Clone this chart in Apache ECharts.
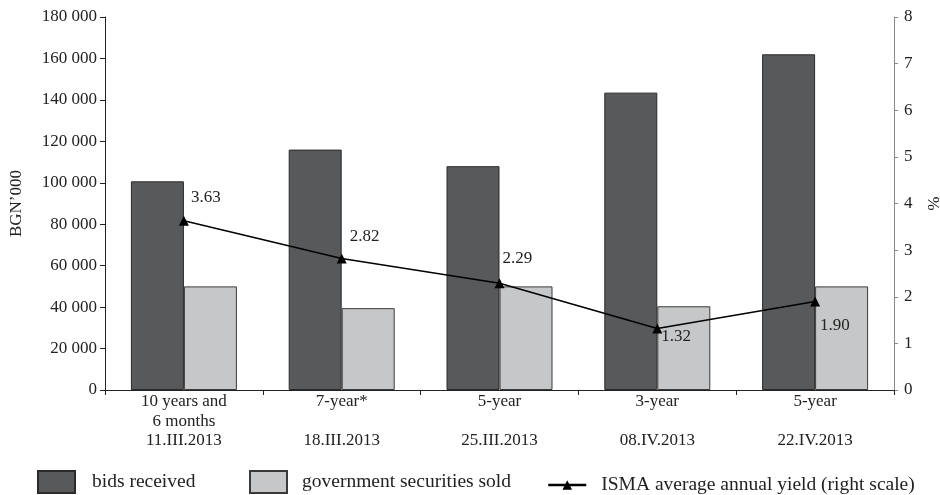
<!DOCTYPE html>
<html>
<head>
<meta charset="utf-8">
<script src="https://cdn.jsdelivr.net/npm/echarts@6/dist/echarts.min.js"></script>
<style>html,body{margin:0;padding:0;background:#fff;}#c{width:940px;height:495px;}</style>
</head>
<body>
<div id="c"></div>
<script>
const categories = ["10 years and\n6 months\n11.III.2013", "7-year*\n\n18.III.2013", "5-year\n\n25.III.2013", "3-year\n\n08.IV.2013", "5-year\n\n22.IV.2013"];
const bidsReceived = [100700, 116000, 108000, 143500, 162000];
const securitiesSold = [50000, 39500, 50000, 40400, 50000];
const ismaYield = [3.63, 2.82, 2.29, 1.32, 1.90];
const yieldLabelOffsets = [[2, -23], [3, -22], [-2, -25], [-1, 8], [0, 24]];
const leftTicks = {min: 0, max: 180000, interval: 20000};
const rightTicks = {min: 0, max: 8, interval: 1};

const FONT = '"Liberation Serif", "DejaVu Serif", serif';
const chart = echarts.init(document.getElementById('c'), null, {renderer: 'canvas'});
const txt = {fontFamily: FONT, fontSize: 17, color: '#222'};
const legTxt = Object.assign({}, txt, {fontSize: 19.5, padding: [0, 0, 0, 10]});

chart.setOption({
  animation: false,
  textStyle: {fontFamily: FONT},
  grid: {left: 105, right: 46, top: 17, bottom: 105, containLabel: false, outerBoundsMode: 'none'},
  legend: [
    {data: [{name: 'bids received', icon: 'rect'}], left: 32, top: 465, itemWidth: 37, itemHeight: 22, textStyle: Object.assign({}, legTxt, {padding: [0, 0, 0, 12]})},
    {data: [{name: 'government securities sold', icon: 'rect'}], left: 244, top: 465, itemWidth: 37, itemHeight: 22, textStyle: legTxt},
    {data: ['ISMA average annual yield (right scale)'], left: 542, top: 470, itemWidth: 38, itemHeight: 12, textStyle: legTxt, lineStyle: {width: 2.5}}
  ],
  xAxis: [
    {
      type: 'category', data: categories, position: 'bottom',
      axisLine: {show: true, lineStyle: {color: '#222', width: 1}},
      axisTick: {show: true, alignWithLabel: false, length: 5, lineStyle: {color: '#222'}},
      axisLabel: Object.assign({}, txt, {lineHeight: 19.5, margin: 2, interval: 0}),
      splitLine: {show: false}
    },
    {
      type: 'category', data: categories, position: 'top',
      axisLine: {show: true, lineStyle: {color: '#222', width: 1}},
      axisTick: {show: false}, axisLabel: {show: false}, splitLine: {show: false}
    }
  ],
  yAxis: [
    {
      type: 'value', min: leftTicks.min, max: leftTicks.max, interval: leftTicks.interval,
      position: 'left',
      name: 'BGN’000', nameLocation: 'middle', nameGap: 80, nameRotate: 90,
      nameTextStyle: Object.assign({}, txt),
      axisLine: {show: true, lineStyle: {color: '#222'}},
      axisTick: {show: true, length: 5, lineStyle: {color: '#222'}},
      axisLabel: Object.assign({}, txt, {margin: 8, formatter: v => String(v).replace(/\B(?=(\d{3})+(?!\d))/g, ' ')}),
      splitLine: {show: false}
    },
    {
      type: 'value', min: rightTicks.min, max: rightTicks.max, interval: rightTicks.interval,
      position: 'right',
      name: '%', nameLocation: 'middle', nameGap: 30, nameRotate: -90,
      nameTextStyle: Object.assign({}, txt),
      axisLine: {show: true, lineStyle: {color: '#888'}},
      axisTick: {show: true, length: 4, lineStyle: {color: '#888'}},
      axisLabel: Object.assign({}, txt, {margin: 10}),
      splitLine: {show: false}
    }
  ],
  series: [
    {
      name: 'bids received', type: 'bar', data: bidsReceived, barWidth: 53, barGap: '0%',
      itemStyle: {color: '#58595b', borderColor: '#2a2a2a', borderWidth: 1}
    },
    {
      name: 'government securities sold', type: 'bar', data: securitiesSold, barWidth: 53, barGap: '0%',
      itemStyle: {color: '#c6c7c8', borderColor: '#3a3a3a', borderWidth: 1}
    },
    {
      name: 'ISMA average annual yield (right scale)', type: 'line', yAxisIndex: 1,
      data: ismaYield.map((v, i) => ({
        value: v,
        label: {show: true, position: 'right', distance: 0, offset: yieldLabelOffsets[i], formatter: p => p.value.toFixed(2)}
      })),
      symbol: 'triangle', symbolSize: 10,
      lineStyle: {color: '#000', width: 1.5},
      itemStyle: {color: '#000'},
      label: Object.assign({}, txt),
      z: 5
    }
  ]
});
</script>
</body>
</html>
